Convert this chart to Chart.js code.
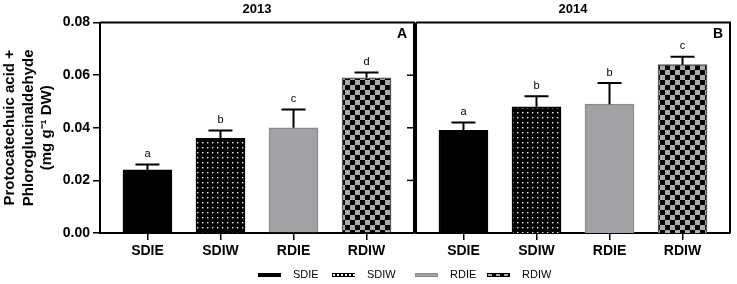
<!DOCTYPE html>
<html><head><meta charset="utf-8">
<script src="https://cdn.jsdelivr.net/npm/chart.js@4"></script>
<style>
html,body{margin:0;padding:0;background:#fff;}
#wrap{position:relative;width:737px;height:284px;overflow:hidden;background:#fff;}
canvas{position:absolute;left:0;top:0;}
.lt{position:absolute;top:268px;height:14px;line-height:14px;font:11px "Liberation Sans Narrow","Arial Narrow","Liberation Sans",sans-serif;color:#000;white-space:nowrap;}
.sw{position:absolute;top:273px;height:4px;width:23px;box-sizing:border-box;}
</style></head><body>
<div id="wrap">
<canvas id="c1" width="737" height="284"></canvas>
<canvas id="c2" width="737" height="284"></canvas>
<div id="legend"></div>
</div>
<script>
const categories = ['SDIE', 'SDIW', 'RDIE', 'RDIW'];
const values2013 = [0.024, 0.036, 0.040, 0.059];
const errors2013 = [0.002, 0.003, 0.007, 0.002];
const letters2013 = ['a', 'b', 'c', 'd'];
const values2014 = [0.039, 0.048, 0.049, 0.064];
const errors2014 = [0.003, 0.004, 0.008, 0.003];
const letters2014 = ['a', 'b', 'b', 'c'];
const yTickValues = [0, 0.02, 0.04, 0.06, 0.08];
const yTitle = ['Protocatechuic acid +', 'Phloroglucinaldehyde', '(mg g\u207B\u00B9 DW)'];

Chart.defaults.font.family = '"Liberation Sans", Arial, sans-serif';
Chart.defaults.color = '#000';

function dotPattern() {
  const c = document.createElement('canvas'); c.width = 5; c.height = 5;
  const g = c.getContext('2d');
  g.fillStyle = '#000'; g.fillRect(0, 0, 5, 5);
  g.fillStyle = '#f0f0f0'; g.fillRect(2, 2, 1.4, 1.4);
  return g.createPattern(c, 'repeat');
}
function checkPattern() {
  const c = document.createElement('canvas'); c.width = 10; c.height = 10;
  const g = c.getContext('2d');
  g.fillStyle = '#ababab'; g.fillRect(0, 0, 10, 10);
  g.fillStyle = '#000'; g.fillRect(0, 0, 5, 5); g.fillRect(5, 5, 5, 5);
  return g.createPattern(c, 'repeat');
}
const fills = ['#000000', dotPattern(), '#a2a2a6', checkPattern()];
const borders = ['#000000', '#000000', '#8a8a8a', '#555555'];

function overlay(values, errs, letters, label, isLeft) {
  return {
    id: 'overlay',
    afterDatasetsDraw(chart) {
      const ctx = chart.ctx, ys = chart.scales.y, ca = chart.chartArea;
      const meta = chart.getDatasetMeta(0);
      ctx.save();
      ctx.strokeStyle = '#000'; ctx.lineWidth = 2;
      meta.data.forEach((bar, i) => {
        const x = bar.x, yTop = bar.y, yCap = ys.getPixelForValue(values[i] + errs[i]);
        ctx.beginPath();
        ctx.moveTo(x, yTop); ctx.lineTo(x, yCap);
        ctx.moveTo(x - 12, yCap); ctx.lineTo(x + 12, yCap);
        ctx.stroke();
        ctx.fillStyle = '#000';
        ctx.font = '11px "Liberation Sans", Arial, sans-serif';
        ctx.textAlign = 'center'; ctx.textBaseline = 'alphabetic';
        ctx.fillText(letters[i], x, yCap - 7.5);
      });
      ctx.beginPath();
      ctx.moveTo(ca.left, ca.top); ctx.lineTo(ca.right, ca.top); ctx.lineTo(ca.right, ca.bottom);
      if (!isLeft) { ctx.moveTo(ca.left, ca.top); ctx.lineTo(ca.left, ca.bottom); }
      ctx.stroke();
      if (isLeft) {
        ctx.lineWidth = 1.5;
        ys.ticks.forEach(t => {
          if (t.value > 0 && t.value < 0.079) {
            const y = ys.getPixelForValue(t.value);
            ctx.beginPath(); ctx.moveTo(ca.right, y); ctx.lineTo(ca.right - 7, y); ctx.stroke();
          }
        });
      }
      ctx.fillStyle = '#000';
      ctx.font = 'bold 14px "Liberation Sans", Arial, sans-serif';
      ctx.textAlign = 'center'; ctx.textBaseline = 'middle';
      ctx.fillText(label, ca.right - 12, ca.top + 12);
      ctx.restore();
    }
  };
}

function makeChart(id, values, errs, letters, year, label, isLeft) {
  const pad = isLeft ? {left: 0, right: 323, top: 0, bottom: 0} : {left: 416, right: 7, top: 0, bottom: 0};
  return new Chart(document.getElementById(id), {
    type: 'bar',
    data: {
      datasets: [{
        data: values.map((v, i) => ({x: i, y: v})),
        backgroundColor: fills,
        borderColor: borders,
        borderWidth: 1.5,
        barThickness: 49
      }]
    },
    options: {
      responsive: false,
      animation: false,
      devicePixelRatio: 1,
      layout: {padding: pad},
      plugins: {
        legend: {display: false},
        tooltip: {enabled: false},
        title: {
          display: true, text: year, fullSize: false, color: '#000',
          font: {size: 13, weight: 'bold'}, padding: {top: 2, bottom: 5}
        }
      },
      scales: {
        x: {
          type: 'linear', min: -0.65, max: 3.65, offset: false,
          afterBuildTicks: s => { s.ticks = categories.map((c, i) => ({value: i})); },
          afterFit: s => { s.height = 51; s.paddingLeft = 0; s.paddingRight = 0; },
          ticks: {
            callback: v => categories[v] ?? '',
            font: {size: 14, weight: 'bold'}, color: '#000', padding: 3,
            maxRotation: 0, autoSkip: false
          },
          grid: {offset: false, drawOnChartArea: false, drawTicks: true, tickLength: 7, color: '#000', lineWidth: 1.5},
          border: {display: true, color: '#000', width: 2}
        },
        y: {
          display: isLeft,
          min: 0, max: 0.08,
          afterBuildTicks: s => { s.ticks = yTickValues.map(v => ({value: v})); },
          afterFit: s => { s.width = isLeft ? 100 : 0; s.paddingTop = 0; s.paddingBottom = 0; },
          ticks: {
            callback: v => v.toFixed(2),
            font: {size: 14, weight: 'bold'}, color: '#000', padding: 3
          },
          grid: {drawOnChartArea: false, drawTicks: true, tickLength: 7, color: '#000', lineWidth: 1.5},
          border: {display: true, color: '#000', width: 2},
          title: {
            display: true, text: yTitle, color: '#000',
            font: {size: 15, weight: 'bold', lineHeight: 1.233},
            padding: {top: 1, bottom: 0}
          }
        }
      }
    },
    plugins: [overlay(values, errs, letters, label, isLeft)]
  });
}

makeChart('c1', values2013, errors2013, letters2013, '2013', 'A', true);
makeChart('c2', values2014, errors2014, letters2014, '2014', 'B', false);

// Legend
const legendSwatchX = [258, 332, 415, 487];
const swatchCss = [
  'background:#000;',
  'background:radial-gradient(circle,#fff 0.7px,transparent 1px) 0 0/4px 4px,#000;',
  'background:#a2a2a6;border:1px solid #8a8a8a;',
  'background:conic-gradient(#000 25%,#aaa 0 50%,#000 0 75%,#aaa 0) 0 0/8px 8px;border:1px solid #000;'
];
const leg = document.getElementById('legend');
categories.forEach((c, i) => {
  const sw = document.createElement('div');
  sw.className = 'sw'; sw.style.cssText = 'left:' + legendSwatchX[i] + 'px;' + swatchCss[i];
  leg.appendChild(sw);
  const t = document.createElement('div');
  t.className = 'lt'; t.style.left = (legendSwatchX[i] + 35) + 'px'; t.textContent = c;
  leg.appendChild(t);
});
</script>
</body></html>
